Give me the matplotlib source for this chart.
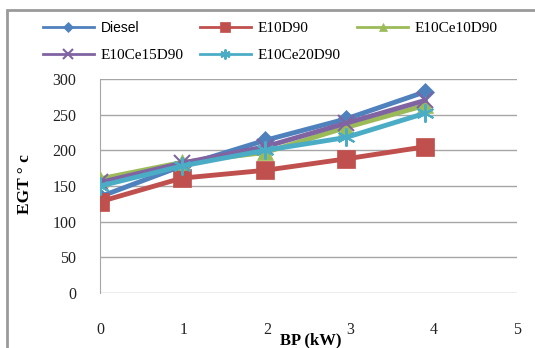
import matplotlib
matplotlib.use("Agg")
import matplotlib.pyplot as plt
from matplotlib.patches import Rectangle

# Brake power (kW) and exhaust gas temperature for each fuel blend
bp = [0, 0.98, 1.98, 2.95, 3.9]
diesel = [135, 178, 214, 244, 282]
e10d90 = [128, 161, 172, 188, 205]
e10ce10d90 = [160, 183, 197, 232, 263]
e10ce15d90 = [155, 182, 205, 238, 270]
e10ce20d90 = [150, 178, 200, 218, 252]

series = [
    ("Diesel", diesel, "#4F81BD", "D", 9),
    ("E10D90", e10d90, "#C0504D", "s", 13),
    ("E10Ce10D90", e10ce10d90, "#9BBB59", "^", 11),
    ("E10Ce15D90", e10ce15d90, "#8064A2", "x", 12),
    ("E10Ce20D90", e10ce20d90, "#4BACC6", (6, 2, 0), 13),
]

serif = ["Liberation Serif", "DejaVu Serif"]

fig = plt.figure(figsize=(5.35, 3.48), dpi=100)
ax = fig.add_axes([0.187, 0.158, 0.779, 0.615])

handles = {}
for name, vals, col, mk, ms in series:
    (ln,) = ax.plot(bp, vals, color=col, lw=3.5, marker=mk, markersize=ms,
                    markeredgewidth=1.5 if mk in ("x", (6, 2, 0)) else 0.5,
                    markeredgecolor=col, label=name, zorder=3)
    handles[name] = ln

ax.set_xlim(0, 5)
ax.set_ylim(0, 300)
ax.set_xticks(range(6))
ax.set_yticks(range(0, 301, 50))
ax.grid(axis="y", color="#a6a6a6", lw=1)
ax.set_axisbelow(True)
for s in ("top", "right", "bottom"):
    ax.spines[s].set_visible(False)
ax.spines["left"].set_color("#a6a6a6")
ax.tick_params(length=0, labelsize=11.5, labelcolor="#222222")
ax.tick_params(axis="x", pad=21)
ax.tick_params(axis="y", pad=17)
for lab in ax.get_xticklabels() + ax.get_yticklabels():
    lab.set_family(serif)

fig.text(0.58, 0.0, "BP (kW)", family=serif, fontweight="bold", fontsize=12,
         ha="center", va="bottom")
fig.text(0.047, 0.47, "EGT ° c", family=serif, fontweight="bold", fontsize=12.5,
         rotation=90, ha="center", va="center")

# legend filled column-wise, so reorder to read row by row
order = ["Diesel", "E10Ce15D90", "E10D90", "E10Ce20D90", "E10Ce10D90"]
leg = fig.legend([handles[n] for n in order], order, ncol=3, frameon=False,
                 loc="upper left", bbox_to_anchor=(0.055, 0.978),
                 handlelength=3.3, columnspacing=1.1, handletextpad=0.45,
                 labelspacing=0.85, markerscale=0.55,
                 prop={"family": serif, "size": 11})
for line in leg.get_lines():
    line.set_linewidth(2)
for txt in leg.get_texts():
    if txt.get_text() == "Diesel":
        txt.set_family(["Liberation Sans", "DejaVu Sans"])
        txt.set_fontsize(10)

# outer chart border
fig.patches.append(Rectangle((0.013, -0.01), 1.2, 0.98, transform=fig.transFigure,
                             fill=False, edgecolor="#9a9a9a", lw=2))

fig.savefig("out.png", dpi=100)
